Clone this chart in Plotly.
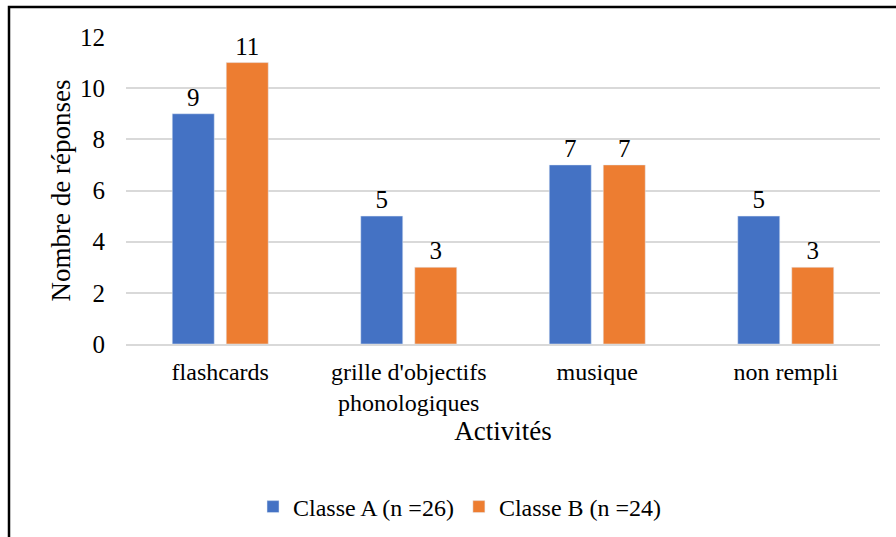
import plotly.graph_objects as go

categories = ["flashcards", "grille d'objectifs<br>phonologiques", "musique", "non rempli"]
classe_a = [9, 5, 7, 5]
classe_b = [11, 3, 7, 3]
series_names = ["Classe A (n =26)", "Classe B (n =24)"]
y_ticks = [0, 2, 4, 6, 8, 10, 12]

FONT = "Liberation Serif"

fig = go.Figure()
fig.add_trace(go.Bar(x=categories, y=classe_a, name=series_names[0], marker_color="#4472C4",
                     text=classe_a, textposition="outside", cliponaxis=False,
                     textfont=dict(size=25, color="#000000", family=FONT)))
fig.add_trace(go.Bar(x=categories, y=classe_b, name=series_names[1], marker_color="#ED7D31",
                     text=classe_b, textposition="outside", cliponaxis=False,
                     textfont=dict(size=25, color="#000000", family=FONT)))

fig.update_layout(
    width=896, height=537,
    margin=dict(l=126, r=16, t=37, b=193, autoexpand=False),
    paper_bgcolor="white", plot_bgcolor="white",
    font=dict(family=FONT, color="#000000", size=24),
    barmode="group", bargap=0.427, bargroupgap=0.222,
    showlegend=True,
    legend=dict(orientation="h", x=0.443, xanchor="center", y=-0.531, yanchor="middle",
                font=dict(size=24, family=FONT), traceorder="normal"),
    xaxis=dict(title=dict(text="Activités", font=dict(size=27, family=FONT), standoff=4),
               tickfont=dict(size=24, family=FONT), showline=True, linecolor="#d9d9d9",
               linewidth=2, ticks="", showgrid=False, automargin=False, ticklabelstandoff=5),
    yaxis=dict(title=dict(text="Nombre de réponses", font=dict(size=27, family=FONT), standoff=1),
               range=[0, 12], tickvals=y_ticks, tickfont=dict(size=25, family=FONT),
               showgrid=True, gridcolor="#d9d9d9", gridwidth=1.5, zeroline=False,
               ticks="", ticklabelstandoff=20, automargin=False),
    shapes=[dict(type="rect", xref="paper", yref="paper",
                 x0=(9 - 126) / 754, x1=1.2, y0=-1.0, y1=1 + 30 / 307,
                 line=dict(color="#000000", width=2.5), fillcolor="rgba(0,0,0,0)", layer="above")],
)

fig.write_html("out.html", config={"displayModeBar": False},
               post_script="document.body.style.margin='0px';")
